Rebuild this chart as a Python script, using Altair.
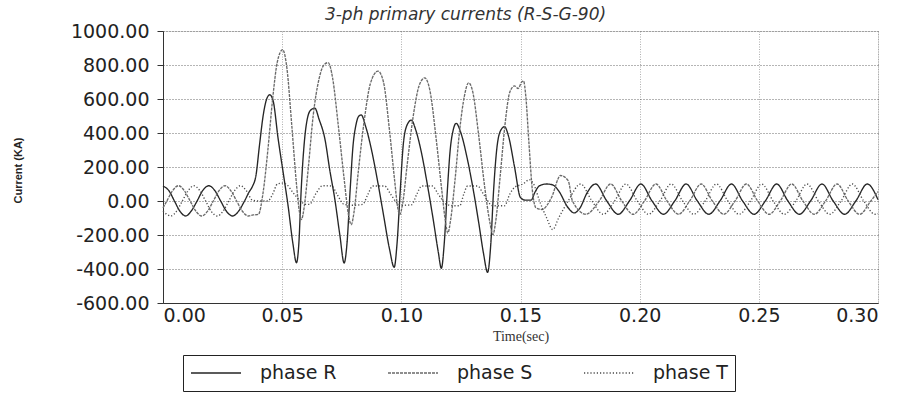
import altair as alt
import pandas as pd

# ---- values ----
r_t = [0.0000, 0.0025, 0.0048, 0.0072, 0.0095, 0.0118, 0.0143, 0.0167, 0.0192, 0.0217, 0.0242, 0.0267, 0.0292, 0.0317, 0.0342, 0.0362, 0.0375,
       0.0390, 0.0405, 0.0420, 0.0435, 0.0448, 0.0462, 0.0483, 0.0505, 0.0525, 0.0545, 0.0560, 0.0570, 0.0580, 0.0592, 0.0605, 0.0620, 0.0637,
       0.0655, 0.0679, 0.0700, 0.0721, 0.0742, 0.0760, 0.0772, 0.0785, 0.0797, 0.0810, 0.0822, 0.0832, 0.0850, 0.0875, 0.0900, 0.0925, 0.0950,
       0.0970, 0.0982, 0.0995, 0.1008, 0.1022, 0.1042, 0.1060, 0.1085, 0.1110, 0.1135, 0.1155, 0.1168, 0.1180, 0.1193, 0.1205, 0.1218, 0.1230,
       0.1250, 0.1275, 0.1300, 0.1325, 0.1345, 0.1362, 0.1375, 0.1387, 0.1400, 0.1415, 0.1433, 0.1450, 0.1475, 0.1500, 0.1520, 0.1545, 0.1560,
       0.1580, 0.1610, 0.1635, 0.1660, 0.1700, 0.1725, 0.1750, 0.1780,
       0.1815, 0.1862, 0.1910, 0.1957, 0.2005, 0.2052, 0.2100, 0.2147, 0.2195, 0.2242, 0.2290, 0.2337, 0.2385, 0.2432, 0.2480, 0.2527, 0.2575,
       0.2622, 0.2670, 0.2717, 0.2765, 0.2812, 0.2860, 0.2907, 0.2955, 0.3000]
r_v = [88, 60, 0, -62, -88, -60, 0, 62, 90, 62, 0, -62, -88, -60, 0, 55, 85,
       150, 330, 500, 600, 625, 590, 367, 160, -30, -250, -363, -250, 70, 330, 480, 535, 546,
       480, 367, 180, 10, -200, -365, -250, 60, 320, 450, 500, 506, 440, 300, 120, -80, -280,
       -390, -250, 50, 330, 440, 476, 420, 280, 90, -120, -300, -396, -250, 60, 300, 420, 457,
       400, 260, 80, -130, -310, -420, -260, 60, 300, 410, 437, 380, 200, 20, 5, 5, 50,
       90, 100, 95, 60, -40, -70, -40, 50,
       100, 0, -78, 0, 100, 0, -78, 0, 100, 0, -78, 0, 100, 0, -78, 0, 100,
       0, -78, 0, 100, 0, -78, 0, 100, 8]

s_t = [0.0000, 0.0016, 0.0040, 0.0065, 0.0090, 0.0114, 0.0139, 0.0163, 0.0187, 0.0211, 0.0236, 0.0260, 0.0285, 0.0309, 0.0334, 0.0358, 0.0378,
       0.0400, 0.0420, 0.0440, 0.0460, 0.0480, 0.0502, 0.0520, 0.0540, 0.0560, 0.0572, 0.0581, 0.0592, 0.0610, 0.0630, 0.0655, 0.0675, 0.0693,
       0.0712, 0.0735, 0.0760, 0.0778, 0.0790, 0.0802, 0.0820, 0.0845, 0.0870, 0.0902, 0.0925, 0.0950, 0.0972, 0.0985, 0.0993, 0.1005, 0.1025,
       0.1050, 0.1075, 0.1098, 0.1120, 0.1145, 0.1170, 0.1185, 0.1195, 0.1207, 0.1225, 0.1245, 0.1265, 0.1282, 0.1300, 0.1325, 0.1350, 0.1372,
       0.1384, 0.1396, 0.1415, 0.1435, 0.1455, 0.1475, 0.1490, 0.1505, 0.1513, 0.1522, 0.1535, 0.1550, 0.1565, 0.1590, 0.1630, 0.1668, 0.1700,
       0.1718, 0.1775, 0.1830, 0.1878, 0.1925, 0.1973, 0.2020, 0.2068, 0.2115, 0.2163, 0.2210, 0.2258, 0.2305, 0.2353, 0.2400, 0.2448, 0.2495,
       0.2543, 0.2590, 0.2638, 0.2685, 0.2733, 0.2780, 0.2828, 0.2875, 0.2923, 0.2970, 0.3000]
s_v = [-40, 0, 60, 90, 60, 0, -62, -88, -60, 0, 62, 90, 60, 0, -62, -88, -82,
       -79, 50, 300, 600, 820, 890, 780, 450, 100, -60, -109, -40, 200, 500, 720, 800, 814,
       720, 450, 130, -80, -139, -60, 180, 480, 690, 764, 700, 420, 120, -40, -80, -20, 220,
       500, 680, 724, 650, 380, 60, -120, -188, -110, 120, 420, 620, 695, 640, 380, 80, -130,
       -198, -120, 150, 450, 640, 677, 662, 700, 705, 620, 350, 60, -40, -50, 20, 150, 120,
       0, -78, 0, 100, 0, -78, 0, 100, 0, -78, 0, 100, 0, -78, 0, 100, 0,
       -78, 0, 100, 0, -78, 0, 100, 0, -78, 0, 55]

t_t = [0.0000, 0.0033, 0.0057, 0.0081, 0.0106, 0.0130, 0.0154, 0.0179, 0.0203, 0.0228, 0.0252, 0.0276, 0.0301, 0.0325, 0.0350, 0.0375,
       0.0400, 0.0440, 0.0460, 0.0480, 0.0500, 0.0520, 0.0545, 0.0574, 0.0600, 0.0615, 0.0640, 0.0670, 0.0708, 0.0730, 0.0760, 0.0800,
       0.0838, 0.0860, 0.0880, 0.0930, 0.0955, 0.0985, 0.1006, 0.1043, 0.1065, 0.1085, 0.1130, 0.1155, 0.1190, 0.1223, 0.1245, 0.1262,
       0.1278, 0.1320, 0.1345, 0.1383, 0.1433, 0.1455, 0.1475, 0.1510, 0.1538, 0.1555, 0.1580, 0.1610, 0.1635, 0.1660, 0.1700, 0.1752,
       0.1800, 0.1847, 0.1895, 0.1942, 0.1990, 0.2037, 0.2085, 0.2132, 0.2180, 0.2227, 0.2275, 0.2322, 0.2370, 0.2417, 0.2465, 0.2512,
       0.2560, 0.2607, 0.2655, 0.2702, 0.2750, 0.2797, 0.2845, 0.2892, 0.2940, 0.2987, 0.3000]
t_v = [-60, -88, -60, 0, 62, 90, 62, 0, -62, -88, -60, 0, 62, 90, 60, 5,
       0, 0, 40, 100, 105, 95, 50, 5, -20, -20, 40, 90, 88, 40, -20, -25,
       -20, 40, 88, 88, 40, -15, -25, -22, 40, 88, 88, 40, -20, -28, -28, 40,
       88, 88, 40, -28, -28, 40, 80, 100, 125, 100, 0, -100, -168, -100, 0, 100,
       0, -78, 0, 100, 0, -78, 0, 100, 0, -78, 0, 100, 0, -78, 0, 100,
       0, -78, 0, 100, 0, -78, 0, 100, 0, -78, -75]

phases = ["phase R", "phase S", "phase T"]
y_ticks = [-600, -400, -200, 0, 200, 400, 600, 800, 1000]
x_ticks = [0.0, 0.05, 0.10, 0.15, 0.20, 0.25, 0.30]

rows = []
for name, ts, vs in [(phases[0], r_t, r_v), (phases[1], s_t, s_v), (phases[2], t_t, t_v)]:
    for t, v in zip(ts, vs):
        rows.append({"time": t, "current": v, "phase": name})
df = pd.DataFrame(rows)

leg = alt.Legend(
    title=None, orient="none", legendX=20, legendY=324, direction="horizontal",
    symbolType="stroke", symbolSize=2500, symbolStrokeWidth=1.4, clipHeight=22,
    labelFont="DejaVu Sans", labelFontSize=19, labelColor="#222", labelOffset=18,
    columnPadding=50, padding=7, strokeColor="#222", fillColor="white",
)

chart = alt.Chart(df).mark_line(interpolate="monotone").encode(
    x=alt.X("time:Q", scale=alt.Scale(domain=[0, 0.3], nice=False),
            axis=alt.Axis(values=x_ticks, format=".2f", title="Time(sec)",
                          labelFont="DejaVu Sans", labelFontSize=19, labelColor="#222",
                          labelPadding=3, tickSize=0, domainColor="#333",
                          gridColor="#999", gridDash=[1, 1.5], gridWidth=0.8,
                          titleFont="Liberation Serif", titleFontSize=14, titleFontWeight="normal",
                          titleColor="#333", titleY=33, titleBaseline="middle")),
    y=alt.Y("current:Q", scale=alt.Scale(domain=[-600, 1000], nice=False),
            axis=alt.Axis(values=y_ticks, title="Current (KA)",
                          labelExpr="replace(format(datum.value, '.2f'), '\u2212', '-')",
                          labelFont="DejaVu Sans", labelFontSize=19, labelColor="#222",
                          labelPadding=8, tickSize=6, tickColor="#333", domainColor="#333",
                          gridColor="#444", gridDash=[1, 2], gridWidth=0.8,
                          titleFont="Liberation Sans", titleFontSize=11, titleFontWeight="bold",
                          titleColor="#222", titleX=-145, titleY=139, titleAlign="center",
                          titleBaseline="middle")),
    color=alt.Color("phase:N", scale=alt.Scale(domain=phases, range=["#262626", "#6a6a6a", "#4a4a4a"]), legend=leg),
    strokeDash=alt.StrokeDash("phase:N", scale=alt.Scale(domain=phases, range=[[1, 0], [3, 1], [1.2, 2]]), legend=leg),
    strokeWidth=alt.StrokeWidth("phase:N", scale=alt.Scale(domain=phases, range=[1.35, 1.35, 1.3]), legend=None),
).properties(
    width=715, height=272,
    title=alt.TitleParams("3-ph primary currents (R-S-G-90)", font="DejaVu Sans", fontSize=17,
                          fontStyle="italic", fontWeight="normal", color="#333",
                          anchor="middle", dx=-55, offset=-2),
    autosize=alt.AutoSizeParams(type="none"),
    padding={"left": 163, "top": 31, "right": 34, "bottom": 92},
).configure_view(stroke="#777", strokeWidth=1).configure(background="white")

chart.save("out.html", embed_options={"renderer": "svg", "actions": False})
